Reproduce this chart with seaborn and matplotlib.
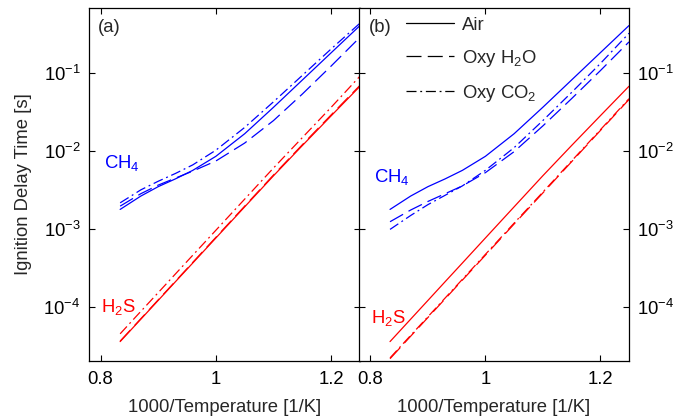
import matplotlib
matplotlib.use("Agg")
import matplotlib.pyplot as plt
import pandas as pd
import seaborn as sns
from matplotlib.lines import Line2D
from matplotlib.ticker import FixedLocator, NullLocator, LogFormatterSciNotation

# Inverse temperature grid, 1000/T [1/K]
inv_T = [0.834, 0.87, 0.9, 0.93, 0.96, 1.0, 1.05, 1.1, 1.15, 1.2, 1.25]

# Ignition delay times [s]
ch4_air = [1.77e-3, 2.63e-3, 3.47e-3, 4.37e-3, 5.62e-3, 8.51e-3, 0.0166, 0.0363, 0.0813, 0.182, 0.407]
h2s_air = [3.55e-5, 6.9e-5, 1.20e-4, 2.09e-4, 3.63e-4, 7.6e-4, 1.91e-3, 4.79e-3, 0.0117, 0.0282, 0.0676]

# Panel (a)
ch4_h2o_a = [1.95e-3, 2.82e-3, 3.63e-3, 4.47e-3, 5.50e-3, 7.41e-3, 0.0126, 0.0245, 0.0537, 0.123, 0.288]
ch4_co2_a = [2.15e-3, 3.16e-3, 4.07e-3, 5.13e-3, 6.61e-3, 0.0102, 0.0200, 0.0427, 0.0933, 0.204, 0.437]
h2s_h2o_a = [3.6e-5, 7.0e-5, 1.22e-4, 2.12e-4, 3.7e-4, 7.75e-4, 1.95e-3, 4.9e-3, 0.0120, 0.0290, 0.0695]
h2s_co2_a = [4.47e-5, 8.7e-5, 1.51e-4, 2.63e-4, 4.57e-4, 9.55e-4, 2.40e-3, 6.03e-3, 0.0148, 0.0363, 0.0912]

# Panel (b)
ch4_h2o_b = [1.23e-3, 1.74e-3, 2.24e-3, 2.82e-3, 3.55e-3, 5.25e-3, 9.77e-3, 0.0209, 0.0468, 0.107, 0.251]
ch4_co2_b = [9.8e-4, 1.48e-3, 2.04e-3, 2.69e-3, 3.55e-3, 5.62e-3, 0.0110, 0.0245, 0.0562, 0.132, 0.324]
h2s_h2o_b = [2.14e-5, 4.17e-5, 7.24e-5, 1.26e-4, 2.19e-4, 4.57e-4, 1.15e-3, 2.88e-3, 7.24e-3, 0.0182, 0.0457]
h2s_co2_b = [2.19e-5, 4.27e-5, 7.41e-5, 1.29e-4, 2.24e-4, 4.68e-4, 1.18e-3, 2.95e-3, 7.41e-3, 0.0186, 0.0468]

cases = ["Air", "Oxy H$_2$O", "Oxy CO$_2$"]
fuels = ["CH4", "H2S"]
x_ticks = [0.8, 1.0, 1.2]
x_tick_labels = ["0.8", "1", "1.2"]
y_ticks = [1e-4, 1e-3, 1e-2, 1e-1]

panels = {
    "a": {"CH4": [ch4_air, ch4_h2o_a, ch4_co2_a], "H2S": [h2s_air, h2s_h2o_a, h2s_co2_a]},
    "b": {"CH4": [ch4_air, ch4_h2o_b, ch4_co2_b], "H2S": [h2s_air, h2s_h2o_b, h2s_co2_b]},
}

rows = []
for panel, by_fuel in panels.items():
    for fuel in fuels:
        for case, series in zip(cases, by_fuel[fuel]):
            for x, t in zip(inv_T, series):
                rows.append({"panel": panel, "fuel": fuel, "case": case, "invT": x, "tau": t})
df = pd.DataFrame(rows)

sns.set_theme(style="ticks")
plt.rcParams["font.family"] = ["Liberation Sans", "DejaVu Sans"]
plt.rcParams["mathtext.fontset"] = "custom"
plt.rcParams["mathtext.rm"] = "Liberation Sans"
plt.rcParams["mathtext.it"] = "Liberation Sans:italic"
plt.rcParams["mathtext.bf"] = "Liberation Sans:bold"
plt.rcParams["mathtext.default"] = "regular"

FS = 13.3
palette = {"CH4": "#0000ff", "H2S": "#ff0000"}
dash_map = {"Air": "", "Oxy H$_2$O": (12, 5), "Oxy CO$_2$": (8, 3, 1.5, 3)}
LW = 0.9

fig = plt.figure(figsize=(6.73, 4.19), dpi=100)
ax_a = fig.add_axes([89 / 673, 58 / 419, 271 / 673, 353 / 419])
ax_b = fig.add_axes([359 / 673, 58 / 419, 270 / 673, 353 / 419])

for ax, panel in [(ax_a, "a"), (ax_b, "b")]:
    sns.lineplot(data=df[df.panel == panel], x="invT", y="tau", hue="fuel", style="case",
                 palette=palette, dashes=dash_map, style_order=cases, hue_order=fuels,
                 estimator=None, errorbar=None, linewidth=LW, legend=False, ax=ax)
    ax.set_yscale("log")
    ax.set_xlim(0.78, 1.25)
    ax.set_ylim(2.0e-5, 0.684)
    ax.xaxis.set_major_locator(FixedLocator(x_ticks))
    ax.set_xticklabels(x_tick_labels)
    ax.yaxis.set_major_locator(FixedLocator(y_ticks))
    ax.yaxis.set_major_formatter(LogFormatterSciNotation())
    ax.yaxis.set_minor_locator(NullLocator())
    ax.xaxis.set_minor_locator(NullLocator())
    ax.tick_params(which="both", direction="in", top=True, right=True, length=4,
                   width=0.8, labelsize=FS, pad=7, color="black", labelcolor="black")
    ax.tick_params(axis="y", pad=6)
    for s in ax.spines.values():
        s.set_linewidth(0.9)
        s.set_color("black")
    ax.set_xlabel("1000/Temperature [1/K]", fontsize=FS, labelpad=8)
    ax.set_facecolor("white")

ax_a.set_ylabel("Ignition Delay Time [s]", fontsize=FS, labelpad=8)
ax_b.set_ylabel("")
ax_b.tick_params(axis="y", labelleft=False, labelright=True)

# Panel tags and fuel labels
ax_a.text(0.033, 0.946, "(a)", transform=ax_a.transAxes, fontsize=FS, va="center", ha="left")
ax_b.text(0.037, 0.946, "(b)", transform=ax_b.transAxes, fontsize=FS, va="center", ha="left")
ax_a.text(0.806, 6.0e-3, "CH$_4$", color="#0000ff", fontsize=FS, ha="left", va="baseline")
ax_a.text(0.8007, 8.55e-5, "H$_2$S", color="#ff0000", fontsize=FS, ha="left", va="baseline")
ax_b.text(0.806, 4.0e-3, "CH$_4$", color="#0000ff", fontsize=FS, ha="left", va="baseline")
ax_b.text(0.8005, 6.2e-5, "H$_2$S", color="#ff0000", fontsize=FS, ha="left", va="baseline")

handles = [Line2D([], [], color="black", lw=LW, linestyle="-"),
           Line2D([], [], color="black", lw=LW, linestyle=(0, (12, 5))),
           Line2D([], [], color="black", lw=LW, linestyle=(0, (8, 3, 1.5, 3)))]
ax_b.legend(handles, cases, loc="upper left", bbox_to_anchor=(0.175, 0.975), frameon=False,
            fontsize=FS, handlelength=2.6, handletextpad=0.4, labelspacing=0.75, borderpad=0,
            borderaxespad=0)

fig.savefig("out.png", dpi=100, facecolor="white")
